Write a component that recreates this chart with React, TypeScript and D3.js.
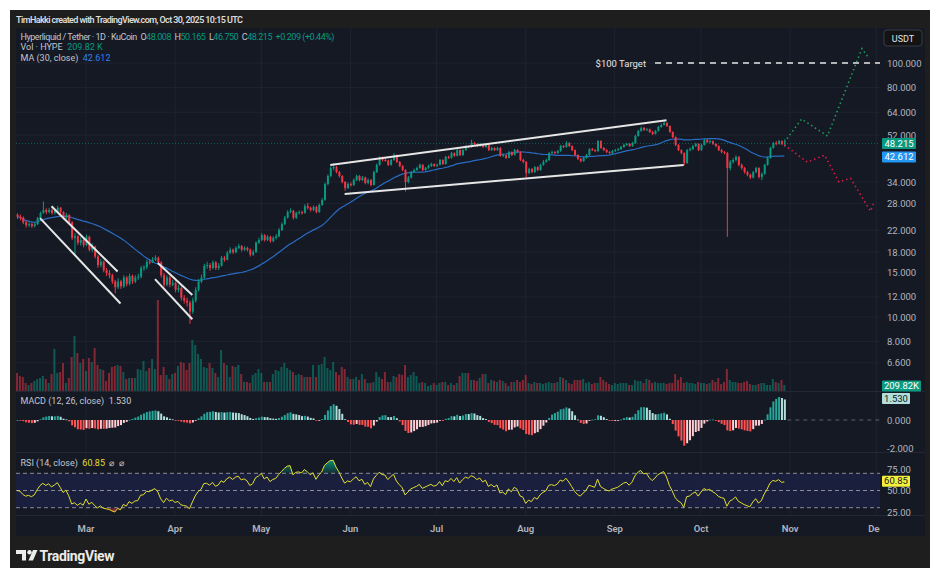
import { useEffect, useRef } from 'react'
import * as d3 from 'd3'

// daily candles, KuCoin HYPE/USDT, first candle 2025-02-05
const startDate = '2025-02-05'
const firstOpen = 25.3
const closes = [
  24.8, 24.6, 23.6, 23.0, 23.2, 22.8, 23.2, 24.5, 25.7, 26.4,
  25.9, 26.4, 25.7, 26.2, 26.9, 25.9, 24.6, 25.2, 23.6, 20.5,
  20.8, 19.6, 20.1, 19.2, 20.7, 18.4, 18.9, 17.3, 16.0, 16.5,
  15.3, 14.9, 14.6, 13.8, 13.1, 13.8, 13.2, 14.3, 13.5, 14.5,
  13.8, 14.3, 14.4, 15.6, 15.7, 16.5, 16.4, 16.8, 17.1, 16.4,
  14.6, 13.4, 14.3, 13.4, 13.6, 12.8, 13.0, 11.9, 11.6, 11.4,
  10.5, 11.6, 12.8, 13.8, 14.3, 15.9, 16.0, 15.6, 16.4, 15.6,
  15.9, 17.1, 16.8, 17.9, 18.4, 18.0, 18.7, 19.0, 18.4, 18.7,
  18.4, 17.6, 18.0, 19.6, 20.1, 21.0, 20.1, 20.7, 19.9, 20.5,
  20.8, 22.0, 23.2, 24.6, 25.9, 26.2, 24.6, 25.7, 25.9, 25.7,
  27.3, 26.9, 26.4, 27.1, 25.9, 27.6, 28.9, 33.4, 35.9, 38.6,
  38.9, 37.2, 35.9, 34.0, 32.2, 33.4, 33.1, 34.6, 35.9, 34.6,
  35.4, 33.7, 34.6, 33.1, 37.2, 39.7, 42.3, 41.5, 41.3, 39.7,
  41.5, 43.4, 40.8, 39.3, 37.9, 34.0, 35.4, 37.2, 37.9, 38.6,
  39.7, 37.9, 38.6, 39.3, 40.0, 39.3, 39.7, 41.5, 40.0, 42.7,
  42.3, 44.2, 43.1, 45.4, 43.4, 45.4, 47.1, 46.7, 48.4, 48.0,
  47.1, 48.0, 46.7, 47.6, 45.4, 46.3, 45.4, 46.3, 43.1, 43.4,
  42.3, 44.6, 43.4, 45.4, 44.6, 41.5, 40.8, 36.9, 38.2, 37.2,
  38.9, 37.9, 39.7, 40.8, 41.5, 44.2, 44.6, 44.2, 45.0, 47.1,
  46.7, 48.4, 47.1, 45.4, 43.4, 41.9, 41.1, 42.3, 43.4, 45.8,
  45.4, 45.0, 49.3, 46.3, 45.4, 44.6, 44.2, 45.0, 45.4, 45.8,
  46.7, 47.6, 48.0, 47.1, 48.4, 51.6, 54.0, 55.5, 54.5, 54.8,
  53.5, 52.6, 54.0, 56.0, 57.0, 58.1, 56.5, 53.5, 51.1, 47.6,
  45.4, 44.2, 40.4, 45.4, 45.8, 47.1, 48.0, 45.4, 47.6, 49.7,
  48.8, 49.2, 48.0, 47.1, 45.4, 44.6, 44.2, 38.6, 40.8, 41.5,
  42.7, 39.7, 38.6, 37.2, 36.3, 35.4, 37.2, 38.6, 35.6, 36.6,
  39.7, 42.3, 46.3, 48.4, 48.0, 49.2, 48.006, 48.215,
]
const highs = [
  25.6, 25.3, 24.9, 23.9, 23.6, 23.5, 23.5, 24.8, 26.0, 28.5,
  26.8, 26.9, 26.7, 26.6, 27.4, 27.1, 26.1, 25.7, 25.4, 23.8,
  21.4, 21.0, 20.6, 20.4, 21.1, 20.9, 19.5, 19.1, 17.5, 16.9,
  16.7, 15.6, 15.3, 14.8, 14.0, 14.2, 14.0, 14.6, 14.5, 14.8,
  14.7, 14.6, 14.8, 15.9, 16.0, 16.8, 16.9, 17.2, 17.5, 17.3,
  16.6, 14.9, 14.6, 14.5, 14.0, 13.8, 13.4, 13.2, 12.2, 11.9,
  11.6, 11.9, 13.1, 14.1, 14.7, 16.2, 16.5, 16.3, 16.7, 16.6,
  16.3, 17.4, 17.4, 18.2, 18.8, 18.6, 19.0, 19.4, 19.2, 19.0,
  18.9, 18.6, 18.4, 19.9, 20.5, 21.4, 21.2, 21.0, 20.9, 20.8,
  21.2, 22.4, 23.6, 25.0, 26.3, 26.8, 26.4, 26.0, 26.3, 26.2,
  27.8, 28.1, 27.2, 27.5, 27.4, 28.0, 29.4, 33.8, 36.4, 39.2,
  40.4, 39.3, 37.6, 36.2, 34.3, 33.9, 33.9, 35.1, 36.4, 36.2,
  35.9, 35.7, 35.1, 34.9, 37.7, 40.2, 42.9, 42.8, 42.2, 41.6,
  42.0, 44.2, 43.7, 41.1, 39.6, 38.2, 35.9, 37.6, 38.4, 39.1,
  40.2, 40.0, 39.0, 39.8, 40.5, 40.3, 40.2, 41.9, 41.8, 43.1,
  43.2, 44.7, 44.5, 45.9, 45.7, 45.8, 47.6, 47.5, 49.9, 48.9,
  48.4, 48.5, 48.3, 48.1, 47.9, 46.8, 46.6, 46.8, 46.6, 44.0,
  43.7, 45.1, 44.9, 45.9, 45.8, 44.9, 42.0, 41.1, 38.7, 38.6,
  39.3, 39.2, 40.1, 41.5, 42.0, 44.7, 45.2, 45.0, 45.5, 47.6,
  47.5, 49.2, 48.8, 47.4, 45.7, 43.7, 42.3, 42.8, 43.9, 46.2,
  46.3, 45.8, 49.8, 49.6, 46.7, 45.8, 45.0, 45.5, 45.9, 46.3,
  47.2, 48.1, 48.5, 48.4, 48.9, 52.2, 54.6, 56.2, 56.0, 55.5,
  55.2, 54.0, 54.5, 56.6, 57.8, 59.4, 58.4, 56.8, 53.8, 51.4,
  47.9, 45.7, 44.5, 45.9, 46.5, 47.6, 48.5, 48.3, 48.1, 50.3,
  50.2, 49.9, 49.6, 48.4, 47.4, 45.9, 45.0, 44.6, 41.5, 42.3,
  43.3, 43.0, 40.2, 39.0, 37.6, 36.7, 37.6, 39.0, 38.9, 37.1,
  40.1, 42.8, 46.8, 48.9, 49.3, 49.8, 49.6, 50.165,
]
const lows = [
  24.3, 24.0, 23.2, 22.5, 22.6, 22.4, 22.5, 23.0, 24.3, 25.5,
  25.4, 25.6, 25.3, 25.3, 25.9, 25.5, 24.2, 24.2, 23.2, 20.1,
  17.4, 19.2, 19.1, 18.8, 19.0, 18.1, 18.0, 17.0, 15.6, 15.7,
  15.0, 14.5, 14.2, 13.5, 12.4, 12.9, 12.9, 13.0, 13.2, 13.3,
  13.5, 13.6, 14.0, 14.2, 15.2, 15.4, 16.1, 16.3, 16.6, 16.1,
  14.3, 13.1, 13.2, 13.1, 13.2, 12.5, 12.5, 11.6, 11.3, 11.0,
  9.4, 10.3, 11.4, 12.6, 13.6, 14.1, 15.5, 15.2, 15.4, 15.3,
  15.3, 15.8, 16.5, 16.7, 17.7, 17.7, 17.8, 18.5, 18.1, 18.2,
  18.1, 17.3, 17.4, 17.9, 19.4, 19.9, 19.8, 19.9, 19.6, 19.7,
  20.2, 20.6, 21.8, 23.0, 24.4, 25.6, 24.2, 24.3, 25.3, 25.3,
  25.5, 26.5, 26.0, 26.1, 25.6, 25.7, 27.4, 28.7, 33.0, 35.5,
  37.8, 36.8, 35.4, 33.6, 31.4, 31.9, 32.6, 32.8, 34.3, 34.2,
  34.3, 33.3, 33.3, 32.7, 32.9, 36.9, 39.4, 41.0, 40.9, 39.3,
  39.4, 41.2, 40.4, 38.9, 37.5, 31.2, 33.6, 35.1, 36.9, 37.6,
  38.3, 37.5, 37.6, 38.3, 39.0, 39.0, 39.0, 39.5, 39.7, 39.8,
  41.9, 42.0, 42.7, 42.9, 43.0, 43.1, 45.1, 46.2, 46.4, 47.5,
  46.7, 46.8, 46.3, 46.3, 45.0, 45.1, 45.0, 45.1, 42.7, 42.6,
  41.9, 42.1, 43.0, 43.2, 44.2, 41.1, 40.3, 35.5, 36.5, 36.8,
  36.9, 37.5, 37.6, 39.4, 40.5, 41.2, 43.8, 43.7, 43.9, 44.7,
  46.2, 46.4, 46.7, 45.0, 43.0, 41.5, 40.6, 40.8, 42.0, 43.1,
  45.0, 44.6, 44.7, 45.9, 45.0, 44.2, 43.8, 43.9, 44.7, 45.0,
  45.5, 46.4, 47.2, 46.7, 46.8, 48.1, 51.3, 53.6, 54.0, 54.0,
  53.0, 52.0, 52.3, 53.7, 55.6, 56.7, 56.0, 53.1, 50.6, 47.1,
  45.0, 43.7, 39.6, 40.1, 44.9, 45.4, 46.7, 45.0, 45.1, 47.3,
  48.4, 48.3, 47.6, 46.6, 45.0, 44.1, 43.7, 20.7, 37.8, 40.2,
  41.0, 39.2, 38.0, 36.7, 35.8, 34.9, 35.1, 36.8, 35.1, 34.6,
  36.3, 39.4, 42.0, 46.0, 47.4, 47.7, 47.5, 46.75,
]
// volume, thousands of HYPE
const volumes = [
  630, 525, 490, 280, 210, 280, 350, 420, 455, 525,
  420, 280, 595, 1470, 630, 665, 980, 280, 455, 1190,
  1925, 1330, 980, 1120, 700, 1155, 1015, 1505, 910, 770,
  735, 350, 630, 840, 875, 910, 875, 665, 420, 455,
  455, 455, 770, 735, 1050, 700, 805, 1120, 770, 3185,
  560, 840, 560, 420, 595, 630, 875, 1015, 980, 735,
  980, 1785, 1610, 1295, 1120, 840, 805, 980, 805, 630,
  490, 1435, 980, 910, 490, 875, 840, 910, 595, 315,
  315, 280, 560, 630, 770, 630, 315, 315, 315, 595,
  735, 700, 840, 980, 805, 735, 665, 560, 595, 560,
  490, 490, 490, 910, 490, 910, 945, 1190, 805, 735,
  1015, 665, 560, 840, 770, 490, 420, 420, 490, 385,
  595, 420, 280, 280, 315, 665, 490, 420, 665, 315,
  315, 525, 490, 595, 560, 910, 490, 560, 665, 525,
  280, 315, 280, 175, 210, 280, 210, 280, 315, 315,
  210, 280, 210, 280, 525, 630, 630, 630,
  385, 385, 350, 455, 595, 595, 280, 385, 350, 315,
  385, 350, 280, 175, 315, 315, 385, 315, 385, 560,
  280, 245, 315, 280, 280, 245, 280, 315, 280, 280,
  315, 490, 455, 385, 280, 245, 385, 385, 385, 420,
  280, 315, 245, 280, 280, 490, 385, 315, 245, 210,
  280, 245, 280, 280, 280, 210, 210, 385, 350, 350,
  280, 420, 385, 280, 315, 280, 280, 280, 245, 280,
  280, 595, 385, 490, 280, 315, 280, 280, 245, 315,
  280, 280, 245, 280, 385, 315, 455, 245, 315, 770,
  385, 315, 315, 280, 280, 315, 350, 245, 210, 210,
  245, 280, 280, 210, 210, 420, 315, 280, 385, 209.82,
]

const priceTicks = [6.6, 8, 10, 12, 15, 18, 22, 28, 34, 52, 64, 80, 100]
const macdTicks = [0, -2]
const rsiTicks = [75, 50, 25]
const rsiLevels = [70, 50, 30]

// drawings on the chart, [date, price]
const channelLines = [
  [['2025-02-17', 27.3], ['2025-03-12', 15.1]],
  [['2025-02-13', 24.5], ['2025-03-13', 11.3]],
  [['2025-03-26', 16.3], ['2025-04-07', 12.2]],
  [['2025-03-25', 14.1], ['2025-04-07', 9.8]],
  [['2025-05-25', 39.7], ['2025-09-19', 59.5]],
  [['2025-05-30', 30.5], ['2025-09-25', 39.7]],
]
const bullPath = [['2025-10-30', 48.7], ['2025-11-05', 60.2], ['2025-11-14', 51.6], ['2025-11-26', 114], ['2025-11-28', 106]]
const bearPath = [['2025-10-30', 47.6], ['2025-11-07', 40.7], ['2025-11-13', 43.4], ['2025-11-18', 34.0], ['2025-11-22', 35.2], ['2025-11-29', 26.1], ['2025-11-30', 27.9]]
const targetPrice = 100
const targetStart = '2025-09-15'

// values printed in the legend
const lastMa = 42.612
const lastMacd = 1.53
const lastRsi = 60.85

export default function App() {
  const svgRef = useRef(null)

  useEffect(() => {
    const W = 938
    const H = 578
    const font = 'Roboto, "Noto Sans", sans-serif'
    const up = '#089981'
    const down = '#f23645'
    const gray = '#b2b5be'

    const svg = d3.select(svgRef.current)
    svg.selectAll('*').remove()

    const parse = d3.utcParse('%Y-%m-%d')
    const t0 = parse(startDate)
    const dates = closes.map((_, i) => d3.utcDay.offset(t0, i))
    const opens = closes.map((c, i) => (i === 0 ? firstOpen : closes[i - 1]))

    const x = d3.scaleUtc().domain([parse('2025-03-01'), parse('2025-10-01')]).range([86, 701])
    const y = d3.scaleLog().domain([10, 100]).range([317, 63])
    const yVol = d3.scaleLinear().domain([0, d3.max(volumes)]).range([391, 300])
    const yMacd = d3.scaleLinear().domain([0, -2]).range([420, 448])
    const yRsi = d3.scaleLinear().domain([25, 75]).range([512, 469])

    // background
    svg.append('rect').attr('width', W).attr('height', H).attr('fill', '#ffffff')
    svg.append('rect').attr('x', 10).attr('y', 10).attr('width', 920).attr('height', 558).attr('fill', '#1e1e1e')
    svg.append('rect').attr('x', 16).attr('y', 28).attr('width', 909).attr('height', 508).attr('fill', '#151924')

    const defs = svg.append('defs')
    defs.append('clipPath').attr('id', 'plot').append('rect')
      .attr('x', 16).attr('y', 28).attr('width', 864).attr('height', 508)
    const gOb = defs.append('linearGradient').attr('id', 'ob').attr('x1', 0).attr('x2', 0).attr('y1', 0).attr('y2', 1)
    gOb.append('stop').attr('offset', '0%').attr('stop-color', '#089981').attr('stop-opacity', 0.9)
    gOb.append('stop').attr('offset', '100%').attr('stop-color', '#089981').attr('stop-opacity', 0.15)
    const gOs = defs.append('linearGradient').attr('id', 'os').attr('x1', 0).attr('x2', 0).attr('y1', 0).attr('y2', 1)
    gOs.append('stop').attr('offset', '0%').attr('stop-color', '#f23645').attr('stop-opacity', 0.15)
    gOs.append('stop').attr('offset', '100%').attr('stop-color', '#f23645').attr('stop-opacity', 0.9)

    const plot = svg.append('g').attr('clip-path', 'url(#plot)')

    // grid
    const months = d3.utcMonths(parse('2025-03-01'), parse('2025-12-02'))
    plot.selectAll('.vgrid').data(months).join('line')
      .attr('x1', d => x(d)).attr('x2', d => x(d)).attr('y1', 28).attr('y2', 515)
      .attr('stroke', '#1f2330').attr('stroke-width', 1)
    plot.selectAll('.hgrid').data(priceTicks).join('line')
      .attr('x1', 16).attr('x2', 880).attr('y1', d => y(d)).attr('y2', d => y(d))
      .attr('stroke', '#1f2330').attr('stroke-width', 1)

    // pane separators
    ;[391.5, 452.5, 515.5].forEach(py => {
      svg.append('line').attr('x1', 16).attr('x2', 925).attr('y1', py).attr('y2', py)
        .attr('stroke', '#232734').attr('stroke-width', 1)
    })

    // RSI band
    plot.append('rect').attr('x', 16).attr('width', 864)
      .attr('y', yRsi(70)).attr('height', yRsi(30) - yRsi(70)).attr('fill', '#1b1f3e')

    // volume
    plot.selectAll('.vol').data(volumes).join('rect')
      .attr('x', (d, i) => x(dates[i]) - 1).attr('width', 2)
      .attr('y', d => yVol(d)).attr('height', d => 391 - yVol(d))
      .attr('fill', (d, i) => (closes[i] >= opens[i] ? 'rgba(8,153,129,0.5)' : 'rgba(242,54,69,0.5)'))

    // MA 30
    const ma = closes.map((_, i) => d3.mean(closes.slice(Math.max(0, i - 29), i + 1)))
    plot.append('path').datum(ma)
      .attr('d', d3.line().x((d, i) => x(dates[i])).y(d => y(d)))
      .attr('fill', 'none').attr('stroke', '#2a6cc4').attr('stroke-width', 1.2)

    // candles
    plot.selectAll('.wick').data(closes).join('line')
      .attr('x1', (d, i) => x(dates[i]) + 0.5).attr('x2', (d, i) => x(dates[i]) + 0.5)
      .attr('y1', (d, i) => y(highs[i])).attr('y2', (d, i) => y(lows[i]))
      .attr('stroke', (d, i) => (d >= opens[i] ? up : down)).attr('stroke-width', 1)
    plot.selectAll('.body').data(closes).join('rect')
      .attr('x', (d, i) => x(dates[i]) - 0.5).attr('width', 2)
      .attr('y', (d, i) => y(Math.max(d, opens[i])))
      .attr('height', (d, i) => Math.max(1, Math.abs(y(d) - y(opens[i]))))
      .attr('fill', (d, i) => (d >= opens[i] ? up : down))

    // current price line
    const last = closes[closes.length - 1]
    plot.append('line').attr('x1', 16).attr('x2', 880).attr('y1', y(last)).attr('y2', y(last))
      .attr('stroke', up).attr('stroke-opacity', 0.55).attr('stroke-dasharray', '1 2')

    // channel drawings
    channelLines.forEach(seg => {
      plot.append('line')
        .attr('x1', x(parse(seg[0][0]))).attr('y1', y(seg[0][1]))
        .attr('x2', x(parse(seg[1][0]))).attr('y2', y(seg[1][1]))
        .attr('stroke', '#e6e6e6').attr('stroke-width', 2)
    })

    // projections
    const proj = d3.line().x(d => x(parse(d[0]))).y(d => y(d[1]))
    plot.append('path').attr('d', proj(bullPath)).attr('fill', 'none')
      .attr('stroke', '#1f9a5b').attr('stroke-width', 1.6).attr('stroke-dasharray', '1.5 3')
    plot.append('path').attr('d', proj(bearPath)).attr('fill', 'none')
      .attr('stroke', '#d81b4a').attr('stroke-width', 1.6).attr('stroke-dasharray', '1.5 3')

    // target
    plot.append('line').attr('x1', x(parse(targetStart))).attr('x2', 880)
      .attr('y1', y(targetPrice)).attr('y2', y(targetPrice))
      .attr('stroke', '#e6e6e6').attr('stroke-width', 1.6).attr('stroke-dasharray', '6 5')
    svg.append('text').attr('x', x(parse(targetStart)) - 9).attr('y', y(targetPrice) + 3.5)
      .attr('text-anchor', 'end').attr('font-family', font).attr('font-size', 9.5).attr('fill', '#e6e6e6')
      .text('$100 Target')

    // MACD histogram
    const ema = (arr, n) => {
      const k = 2 / (n + 1)
      const out = []
      arr.forEach((v, i) => out.push(i === 0 ? v : v * k + out[i - 1] * (1 - k)))
      return out
    }
    const e12 = ema(closes, 12)
    const e26 = ema(closes, 26)
    const macd = e12.map((v, i) => v - e26[i])
    const sig = ema(macd, 9)
    const hist = macd.map((v, i) => v - sig[i])
    const histColor = (h, i) => {
      const prev = i > 0 ? hist[i - 1] : 0
      if (h >= 0) return h >= prev ? '#26a69a' : '#b2dfdb'
      return h < prev ? '#ff5252' : '#ffcdd2'
    }
    plot.selectAll('.hist').data(hist).join('rect')
      .attr('x', (d, i) => x(dates[i]) - 0.5).attr('width', 2)
      .attr('y', d => Math.max(393, Math.min(yMacd(Math.max(d, 0)), 420)))
      .attr('height', d => Math.max(0.8, Math.min(Math.abs(yMacd(d) - yMacd(0)), d > 0 ? 27 : 31)))
      .attr('fill', histColor)
    plot.append('line').attr('x1', x(dates[dates.length - 1]) + 3).attr('x2', 880)
      .attr('y1', yMacd(0)).attr('y2', yMacd(0))
      .attr('stroke', '#5d606b').attr('stroke-dasharray', '4 4')

    // RSI
    let ag = 0.5
    let al = 0.5
    const rsi = closes.map((c, i) => {
      if (i > 0) {
        const ch = c - closes[i - 1]
        ag = (ag * 13 + Math.max(ch, 0)) / 14
        al = (al * 13 + Math.max(-ch, 0)) / 14
      }
      return 100 - 100 / (1 + ag / al)
    })
    plot.append('path').datum(rsi)
      .attr('d', d3.area().x((d, i) => x(dates[i])).y0(yRsi(70)).y1(d => yRsi(Math.max(d, 70))))
      .attr('fill', 'url(#ob)')
    plot.append('path').datum(rsi)
      .attr('d', d3.area().x((d, i) => x(dates[i])).y0(yRsi(30)).y1(d => yRsi(Math.min(d, 30))))
      .attr('fill', 'url(#os)')
    plot.selectAll('.rl').data(rsiLevels).join('line')
      .attr('x1', 16).attr('x2', 880).attr('y1', d => yRsi(d)).attr('y2', d => yRsi(d))
      .attr('stroke', '#8a8d96').attr('stroke-width', 1).attr('stroke-dasharray', '4 3')
    plot.append('path').datum(rsi)
      .attr('d', d3.line().x((d, i) => x(dates[i])).y(d => yRsi(d)))
      .attr('fill', 'none').attr('stroke', '#e3df2c').attr('stroke-width', 1)

    // right axis
    const axisText = (ty, s) => svg.append('text').attr('x', 887).attr('y', ty + 3.5)
      .attr('font-family', font).attr('font-size', 9.5).attr('fill', gray).text(s)
    priceTicks.forEach(p => axisText(y(p), d3.format('.3f')(p)))
    macdTicks.forEach(v => axisText(yMacd(v), d3.format('.3f')(v).replace('−', '-')))
    rsiTicks.forEach(v => axisText(yRsi(v), d3.format('.2f')(v)))

    const box = (cy, s, fill, color, w) => {
      svg.append('rect').attr('x', 882).attr('y', cy - 5.5).attr('width', w).attr('height', 11)
        .attr('fill', fill).attr('rx', 1)
      svg.append('text').attr('x', 882 + w / 2).attr('y', cy + 3.3).attr('text-anchor', 'middle')
        .attr('font-family', font).attr('font-size', 9.5).attr('fill', color).text(s)
    }
    box(y(last), d3.format('.3f')(last), up, '#ffffff', 34)
    box(y(lastMa), d3.format('.3f')(lastMa), '#2196f3', '#ffffff', 34)
    box(386, d3.format('.2f')(volumes[volumes.length - 1]) + 'K', '#0b9a80', '#ffffff', 39)
    box(yMacd(-lastMacd * -1) , d3.format('.3f')(lastMacd), '#b2dfdb', '#131722', 28)
    box(yRsi(lastRsi), d3.format('.2f')(lastRsi), '#f4ef3a', '#131722', 28)

    // currency box
    svg.append('rect').attr('x', 884).attr('y', 30).attr('width', 38).attr('height', 16).attr('rx', 3)
      .attr('fill', '#131313').attr('stroke', '#3a3d45')
    svg.append('text').attr('x', 903).attr('y', 41.5).attr('text-anchor', 'middle')
      .attr('font-family', font).attr('font-size', 9).attr('fill', '#e0e3eb').text('USDT')

    // time axis
    const tg = svg.append('g').attr('clip-path', 'url(#plot)')
    tg.selectAll('text').data(months).join('text')
      .attr('x', d => x(d)).attr('y', 532).attr('text-anchor', 'middle')
      .attr('font-family', font).attr('font-size', 9.5).attr('font-weight', 600).attr('fill', gray)
      .text(d => d3.utcFormat('%b')(d))

    // header and legends
    svg.append('text').attr('x', 16).attr('y', 22.5).attr('font-family', font).attr('font-size', 9)
      .attr('font-weight', 600).attr('fill', '#dcdcdc').attr('textLength', 227)
      .text('TimHakki created with TradingView.com, Oct 30, 2025 10:15 UTC')

    const legend = (ly, parts, len) => {
      const t = svg.append('text').attr('x', 20.5).attr('y', ly).attr('font-family', font)
        .attr('font-size', 9).style('white-space', 'pre')
      if (len) t.attr('textLength', len)
      parts.forEach(([s, c]) => t.append('tspan').attr('fill', c).text(s))
    }
    const lg = '#c3c6ce'
    legend(39.5, [
      ['Hyperliquid / Tether · 1D · KuCoin  ', lg], ['O', lg], ['48.008  ', up], ['H', lg], ['50.165  ', up],
      ['L', lg], ['46.750  ', up], ['C', lg], ['48.215  ', up], ['+0.209 (+0.44%)', up],
    ], 314)
    legend(50, [['Vol · HYPE  ', lg], ['209.82 K', up]])
    legend(60.5, [['MA (30, close)  ', lg], ['42.612', '#2f80e8']])
    legend(404, [['MACD (12, 26, close)  ', lg], ['1.530', '#c9ccd2']])
    legend(466, [['RSI (14, close)  ', lg], ['60.85', '#e3df2c'], ['  ⌀  ⌀', lg]])

    // logo
    const logo = svg.append('g').attr('fill', '#ececec')
    logo.append('path').attr('d', 'M16 550 h10 v10.5 h-4 v-6.5 h-6 z')
    logo.append('circle').attr('cx', 29.5).attr('cy', 552.2).attr('r', 2.2)
    logo.append('path').attr('d', 'M33 550 h4.5 l-4.5 10.5 h-4.5 z')
    svg.append('text').attr('x', 39.5).attr('y', 561).attr('font-family', font).attr('font-size', 14)
      .attr('font-weight', 700).attr('fill', '#ececec').attr('textLength', 75).text('TradingView')
  }, [])

  return (
    <svg ref={svgRef} width={938} height={578}
      style={{ position: 'absolute', left: 0, top: 0, display: 'block' }} />
  )
}
